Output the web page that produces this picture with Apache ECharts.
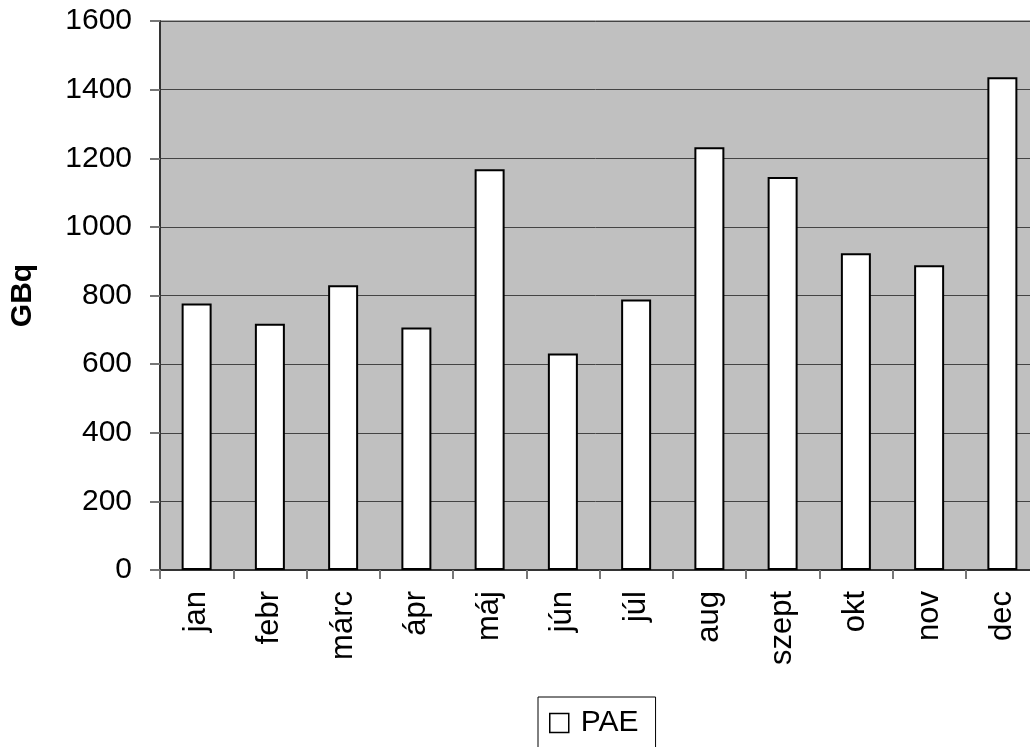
<!DOCTYPE html>
<html>
<head>
<meta charset="utf-8">
<script src="https://cdn.jsdelivr.net/npm/echarts@6/dist/echarts.min.js"></script>
<style>
  html, body { margin: 0; padding: 0; background: #fff; }
  #chart { width: 1030px; height: 747px; }
</style>
</head>
<body>
<div id="chart"></div>
<script>
var months = ["jan", "febr", "márc", "ápr", "máj", "jún", "júl", "aug", "szept", "okt", "nov", "dec"];
var paeValues = [777, 718, 830, 707, 1168, 631, 788, 1232, 1145, 923, 888, 1436];
var yTicks = { min: 0, max: 1600, interval: 200 };

var font = "Liberation Sans, Arial, sans-serif";
var chart = echarts.init(document.getElementById("chart"));
chart.setOption({
  animation: false,
  textStyle: { fontFamily: font },
  grid: {
    left: 160,
    top: 21,
    right: -9,
    bottom: 177,
    containLabel: false,
    outerBoundsMode: "none",
    show: true,
    backgroundColor: "#c0c0c0",
    borderColor: "#555",
    borderWidth: 1
  },
  legend: {
    data: ["PAE"],
    left: 538,
    top: 697,
    icon: "rect",
    itemWidth: 19,
    itemHeight: 19,
    padding: [11, 17, 30, 11],
    borderColor: "#000",
    borderWidth: 1,
    itemStyle: { color: "#fff", borderColor: "#000", borderWidth: 1.5 },
    textStyle: { fontSize: 30, color: "#000", padding: [0, 0, 0, 7], fontFamily: font }
  },
  xAxis: {
    type: "category",
    data: months,
    boundaryGap: true,
    axisLine: { lineStyle: { color: "#333", width: 2 } },
    axisTick: { show: true, length: 9, lineStyle: { color: "#777", width: 2 } },
    axisLabel: {
      rotate: 90,
      margin: 21,
      fontSize: 31,
      color: "#000",
      fontFamily: font
    },
    splitLine: { show: false }
  },
  yAxis: {
    type: "value",
    min: yTicks.min,
    max: yTicks.max,
    interval: yTicks.interval,
    name: "GBq",
    nameLocation: "middle",
    nameGap: 122,
    nameRotate: 90,
    nameTextStyle: { fontSize: 30, fontWeight: "bold", color: "#000", fontFamily: font },
    axisLine: { show: true, lineStyle: { color: "#333", width: 2 } },
    axisTick: { show: true, length: 10, lineStyle: { color: "#777", width: 2 } },
    axisLabel: {
      fontSize: 30,
      color: "#000",
      margin: 28,
      fontFamily: font,
      formatter: function (v) { return String(v); }
    },
    splitLine: { show: true, lineStyle: { color: "#444", width: 1 } }
  },
  series: [{
    name: "PAE",
    type: "bar",
    data: paeValues,
    barWidth: 30,
    itemStyle: { color: "#fff", borderColor: "#000", borderWidth: 2 }
  }]
});
</script>
</body>
</html>
